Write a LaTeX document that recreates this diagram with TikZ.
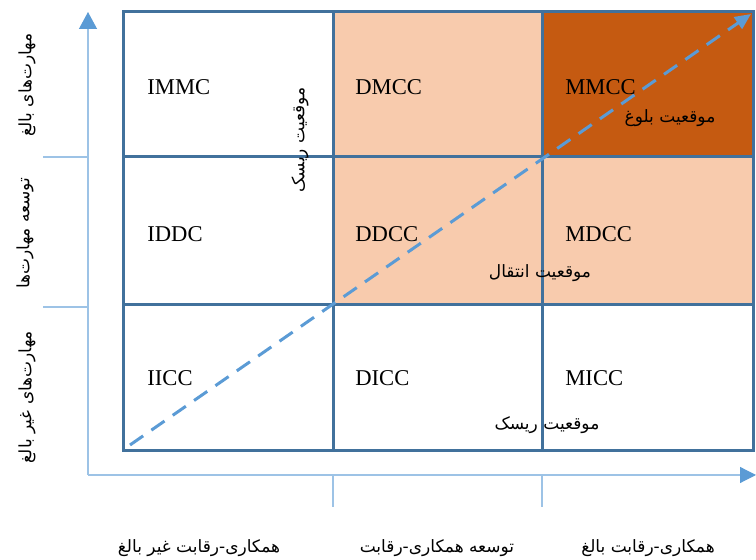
\documentclass[tikz,border=0pt]{standalone}
\usepackage{fontspec}
\setmainfont{Liberation Serif}
\newfontfamily\farsifont[Script=Arabic]{DejaVu Sans}
\TeXXeTstate=1
\usepackage{xcolor}
\usetikzlibrary{positioning}
\usetikzlibrary{arrows.meta}

\definecolor{gridblue}{HTML}{41719C}
\definecolor{axisblue}{HTML}{9DC3E6}
\definecolor{arrowblue}{HTML}{5B9BD5}
\definecolor{peach}{HTML}{F8CBAD}
\definecolor{rust}{HTML}{C55A11}

\tikzset{
  gridline/.style={draw=gridblue, line width=1.5pt},
  axisline/.style={draw=axisblue, line width=0.6pt},
  cellname/.style={anchor=west, inner sep=0, font=\fontsize{11.3}{13}\selectfont},
  falabel/.style={inner sep=0, font=\farsifont\fontsize{8.5}{10}\selectfont},
}

\begin{document}
\begin{tikzpicture}[x=0.5pt, y=-0.5pt]
  \useasboundingbox (0,0) rectangle (756,560);
  % cells %
  \fill[peach] (333,12) rectangle (542,305);
  \fill[peach] (542,157) rectangle (753,305);
  \fill[rust] (542,12) rectangle (753,157);
  \draw[gridline] (123,12) rectangle (753,451);
  \draw[gridline] (333,12) -- (333,451);
  \draw[gridline] (542,12) -- (542,451);
  \draw[gridline] (123,157) -- (753,157);
  \draw[gridline] (123,305) -- (753,305);
  % axes %
  \coordinate (o) at (88,475);
  \coordinate (ytip) at (88,12);
  \coordinate (xtip) at (756,475);
  \coordinate (ty1) at (43,157);
  \coordinate (ty1e) at (88,157);
  \coordinate (ty2) at (43,307);
  \coordinate (ty2e) at (88,307);
  \coordinate (tx1) at (333,475);
  \coordinate (tx1e) at (333,507);
  \coordinate (tx2) at (542,475);
  \coordinate (tx2e) at (542,507);
  \draw[axisline, -{Triangle[length=8.5pt, width=9pt, color=arrowblue]}] (o) -- (ytip);
  \draw[axisline, -{Triangle[length=8pt, width=8pt, color=arrowblue]}] (o) -- (xtip);
  \draw[axisline] (ty1) -- (ty1e);
  \draw[axisline] (ty2) -- (ty2e);
  \draw[axisline] (tx1) -- (tx1e);
  \draw[axisline] (tx2) -- (tx2e);
  % diagonal %
  \coordinate (d0) at (130,445);
  \coordinate (d1) at (751,14);
  \draw[arrowblue, line width=1.5pt, dash pattern=on 8pt off 5pt,
        -{Triangle[length=8pt, width=7pt]}] (d0) -- (d1);
  % cell names %
  \node[cellname] (immc) at (147,87) {IMMC};
  \node[cellname] (dmcc) at (355,87) {DMCC};
  \node[cellname] (mmcc) at (565,87) {MMCC};
  \node[cellname] (iddc) at (147,234) {IDDC};
  \node[cellname] (ddcc) at (355,234) {DDCC};
  \node[cellname] (mdcc) at (565,234) {MDCC};
  \node[cellname] (iicc) at (147,378) {IICC};
  \node[cellname] (dicc) at (355,378) {DICC};
  \node[cellname] (micc) at (565,378) {MICC};
  % positions %
  \node[falabel] (maturity) at (670,118) {\beginR موقعیت بلوغ\endR};
  \node[falabel] (transfer) at (540,273) {\beginR موقعیت انتقال\endR};
  \node[falabel] (risk) at (547,425) {\beginR موقعیت ریسک\endR};
  \node[falabel, rotate=90] (riskv) at (300,140) {\beginR موقعیت ریسک\endR};
  % axis labels %
  \node[falabel, rotate=90] (ymat) at (27,85) {\beginR مهارت‌های بالغ\endR};
  \node[falabel, rotate=90] (ydev) at (25,233) {\beginR توسعه مهارت‌ها\endR};
  \node[falabel, rotate=90] (yimm) at (27,397) {\beginR مهارت‌های غیر بالغ\endR};
  \node[falabel] (ximm) at (199,548) {\beginR همکاری-رقابت غیر بالغ\endR};
  \node[falabel] (xdev) at (437,548) {\beginR توسعه همکاری-رقابت\endR};
  \node[falabel] (xmat) at (648,548) {\beginR همکاری-رقابت بالغ\endR};
\end{tikzpicture}
\end{document}
